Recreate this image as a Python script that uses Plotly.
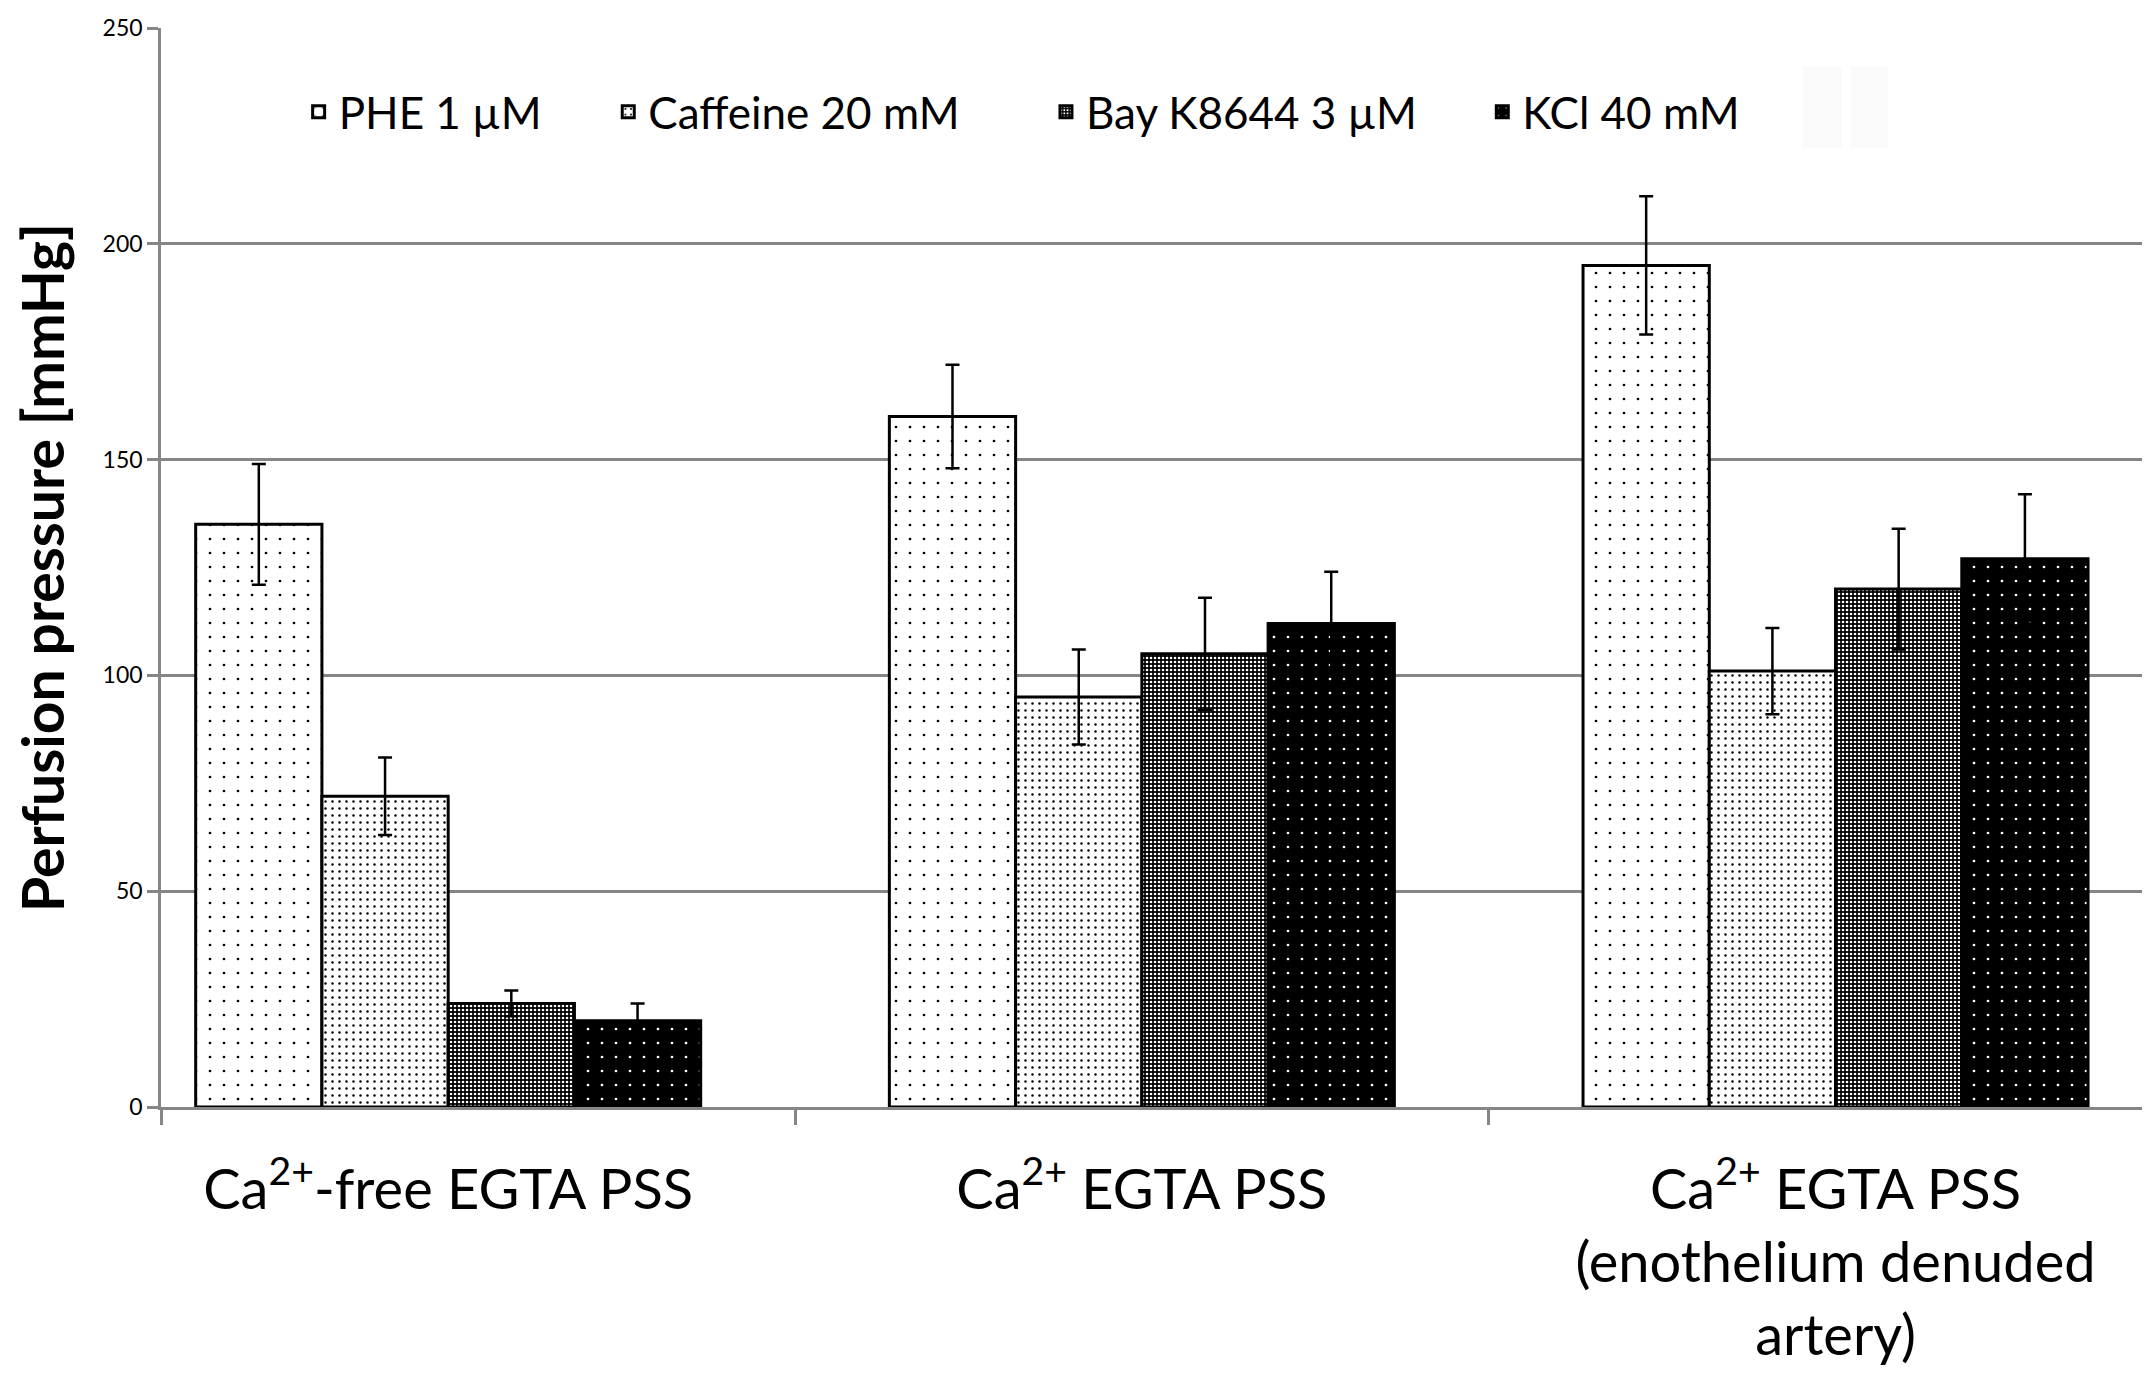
import plotly.graph_objects as go

# ---------------- data ----------------
categories = [
    "Ca<sup>2+</sup>-free EGTA PSS",
    "Ca<sup>2+</sup> EGTA PSS",
    "Ca<sup>2+</sup> EGTA PSS<br>(enothelium denuded<br>artery)",
]
series_names = ["PHE 1 µM", "Caffeine 20 mM", "Bay K8644 3 µM", "KCl 40 mM"]
phe = [135, 160, 195]
phe_err = [14, 12, 16]
caffeine = [72, 95, 101]
caffeine_err = [9, 11, 10]
bay = [24, 105, 120]
bay_err = [3, 13, 14]
kcl = [20, 112, 127]
kcl_err = [4, 12, 15]
y_tick_values = [0, 50, 100, 150, 200, 250]
y_title = "Perfusion pressure [mmHg]"

# ---------------- styles ----------------
FONT = "Lato"
GRID = "#868686"
x_pos = list(range(len(categories)))
x_range = [-0.414, 2.449]
legend_x = [0.0693, 0.2252, 0.4456, 0.6653]
legend_keys = ["legend", "legend2", "legend3", "legend4"]

patterns = [
    dict(shape=".", fgcolor="black", bgcolor="white", size=14, solidity=0.03),
    dict(shape=".", fgcolor="black", bgcolor="white", size=7, solidity=0.1),
    dict(shape=".", fgcolor="white", bgcolor="black", size=4, solidity=0.33),
    dict(shape=".", fgcolor="white", bgcolor="black", size=14, solidity=0.03),
]
values = [phe, caffeine, bay, kcl]
errors = [phe_err, caffeine_err, bay_err, kcl_err]

fig = go.Figure()
for name, vals, errs, pat, lg in zip(series_names, values, errors, patterns, legend_keys):
    fig.add_trace(go.Bar(
        name=name,
        x=x_pos,
        y=vals,
        legend=lg,
        marker=dict(color=pat["bgcolor"], pattern=dict(fillmode="replace", **pat),
                    line=dict(color="black", width=3)),
        error_y=dict(type="data", array=errs, visible=True, color="black",
                     thickness=2.5, width=7),
    ))

legend_common = dict(orientation="h", y=0.922, xanchor="left", yanchor="middle",
                     font=dict(size=44, family=FONT, color="black"),
                     bgcolor="rgba(0,0,0,0)")
fig.update_layout(
    width=2150, height=1385,
    paper_bgcolor="white", plot_bgcolor="white",
    margin=dict(l=153, r=11, t=20, b=286, pad=0),
    barmode="group", bargap=0.272, bargroupgap=0,
    font=dict(family=FONT, color="black"),
    showlegend=True,
    **{k: dict(x=xv, **legend_common) for k, xv in zip(legend_keys, legend_x)},
)

# faint artefact boxes to the right of the legend
for x0, x1 in [(0.8268, 0.8462), (0.8510, 0.8697)]:
    fig.add_shape(type="rect", xref="paper", yref="paper", x0=x0, x1=x1,
                  y0=0.8886, y1=0.9646, fillcolor="#fafafa", line=dict(width=0),
                  layer="below")

fig.update_xaxes(
    range=x_range, automargin=False,
    tickmode="array", tickvals=x_pos, ticktext=categories,
    ticks="", ticklabelstandoff=32,
    tickfont=dict(size=56, family=FONT, color="black"),
    showline=True, linecolor=GRID, linewidth=2.5,
    showgrid=False, zeroline=False,
    minor=dict(tickmode="array", tickvals=[x_range[0], 0.5, 1.5, x_range[1]],
               ticks="outside", ticklen=15, tickwidth=2.5, tickcolor=GRID, showgrid=False),
)
fig.update_yaxes(
    range=[0, 250], automargin=False,
    tickmode="array", tickvals=y_tick_values,
    ticks="outside", ticklen=11, tickwidth=2.5, tickcolor=GRID,
    tickfont=dict(size=23, family=FONT, color="black"),
    ticklabeloverflow="allow",
    showline=True, linecolor=GRID, linewidth=2.5,
    showgrid=True, gridcolor=GRID, gridwidth=2.5,
    zeroline=False,
    title=dict(text=f"<b>{y_title}</b>", font=dict(size=57, family=FONT, color="black"),
               standoff=36),
)

fig.write_html("out.html")
